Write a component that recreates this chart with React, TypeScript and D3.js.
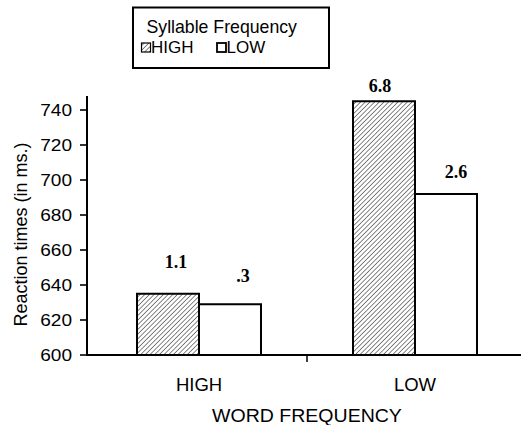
import React from "react";
import * as d3 from "d3";

const wordFrequency = ["HIGH", "LOW"];
const syllableFrequency = ["HIGH", "LOW"];
// reaction times [word][syllable]
const highWordValues = [635, 629];
const lowWordValues = [745, 692];
const valueLabels = [["1.1", ".3"], ["6.8", "2.6"]];
const yTicks = [600, 620, 640, 660, 680, 700, 720, 740];

// layout nudges for hand-placed value labels (dx, dy in px)
const labelNudge = [
  [[8, -26], [13, -22]],
  [[-4, -9], [10, -16]],
];

const W = 521;
const H = 425;
const sans = "'Liberation Sans', Arial, Helvetica, sans-serif";
const serif = "'Liberation Serif', 'Times New Roman', serif";

export default function App() {
  const values = [highWordValues, lowWordValues];
  const x0 = d3.scaleBand<string>().domain(wordFrequency).range([91, 523]);
  const x1 = d3
    .scaleBand<string>()
    .domain(syllableFrequency)
    .range([0, x0.bandwidth()])
    .paddingInner(0)
    .paddingOuter(0.742);
  const y = d3.scaleLinear().domain([600, 740]).range([355, 110]);
  const axisLeft = 87;
  const axisTop = y(748);
  const boundaries = wordFrequency.slice(1).map((w) => x0(w)!);

  return (
    <svg
      width={W}
      height={H}
      style={{ position: "absolute", left: 0, top: 0, background: "#fff" }}
    >
      <defs>
        <pattern
          id="hatch"
          patternUnits="userSpaceOnUse"
          width={3.3}
          height={3.3}
          patternTransform="rotate(45)"
        >
          <rect width={3.3} height={3.3} fill="#fff" />
          <line x1={0} y1={0} x2={0} y2={3.3} stroke="#222" strokeWidth={1.1} />
        </pattern>
      </defs>

      {/* bars */}
      {wordFrequency.map((w, i) =>
        syllableFrequency.map((s, j) => {
          const bx = x0(w)! + x1(s)!;
          const by = y(values[i][j]);
          return (
            <rect
              key={w + s}
              x={bx}
              y={by}
              width={x1.bandwidth()}
              height={y(600) - by}
              fill={j === 0 ? "url(#hatch)" : "#fff"}
              stroke="#000"
              strokeWidth={2}
            />
          );
        })
      )}

      {/* value labels */}
      {wordFrequency.map((w, i) =>
        syllableFrequency.map((s, j) => {
          const cx = x0(w)! + x1(s)! + x1.bandwidth() / 2;
          return (
            <text
              key={"l" + w + s}
              x={cx + labelNudge[i][j][0]}
              y={y(values[i][j]) + labelNudge[i][j][1]}
              textAnchor="middle"
              fontFamily={serif}
              fontWeight="bold"
              fontSize={18}
              fill="#000"
            >
              {valueLabels[i][j]}
            </text>
          );
        })
      )}

      {/* y axis */}
      <line x1={axisLeft} x2={axisLeft} y1={axisTop} y2={y(600) + 1} stroke="#000" strokeWidth={2} />
      {yTicks.map((t) => (
        <g key={t}>
          <line x1={80} x2={axisLeft} y1={y(t)} y2={y(t)} stroke="#000" strokeWidth={1.6} />
          <text
            transform={`translate(72,${y(t)}) scale(1.17,1)`}
            dy="0.36em"
            textAnchor="end"
            fontFamily={sans}
            fontSize={16.3}
            fill="#000"
          >
            {t}
          </text>
        </g>
      ))}
      <text
        transform={`translate(27,${(y(600) + axisTop) / 2 + 9}) rotate(-90)`}
        textAnchor="middle"
        fontFamily={sans}
        fontSize={18}
        fill="#000"
      >
        Reaction times (in ms.)
      </text>

      {/* x axis */}
      <line x1={axisLeft - 1} x2={W} y1={y(600)} y2={y(600)} stroke="#000" strokeWidth={2} />
      {boundaries.map((b) => (
        <line key={b} x1={b} x2={b} y1={y(600)} y2={y(600) + 7} stroke="#000" strokeWidth={1.5} />
      ))}
      {wordFrequency.map((w) => (
        <text
          key={"x" + w}
          x={x0(w)! + x0.bandwidth() / 2}
          y={390.5}
          textAnchor="middle"
          fontFamily={sans}
          fontSize={18.5}
          fill="#000"
        >
          {w}
        </text>
      ))}
      <text
        transform={`translate(${boundaries[0]},421.5) scale(1.05,1)`}
        textAnchor="middle"
        fontFamily={sans}
        fontSize={18.6}
        fill="#000"
      >
        WORD FREQUENCY
      </text>

      {/* legend */}
      <rect x={133} y={7.5} width={196} height={60.5} fill="#fff" stroke="#000" strokeWidth={2} />
      <text x={146.5} y={32.5} fontFamily={sans} fontSize={17.7} fill="#000">
        Syllable Frequency
      </text>
      <rect x={141.5} y={43} width={9} height={9} fill="url(#hatch)" stroke="#000" strokeWidth={1.2} />
      <text x={151} y={52.7} fontFamily={sans} fontSize={17} fill="#000">
        {syllableFrequency[0]}
      </text>
      <rect x={217} y={43} width={9} height={9} fill="#fff" stroke="#000" strokeWidth={1.8} />
      <text x={226.5} y={52.7} fontFamily={sans} fontSize={17} fill="#000">
        {syllableFrequency[1]}
      </text>
    </svg>
  );
}
